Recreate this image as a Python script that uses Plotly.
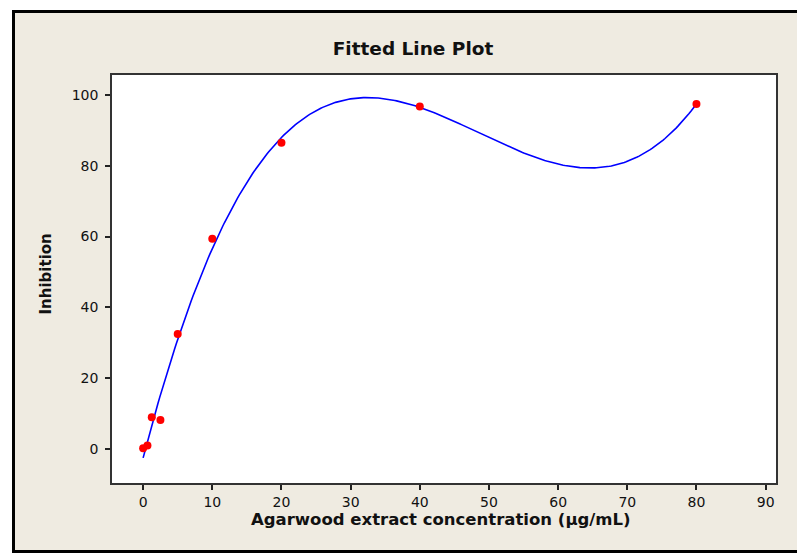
import numpy as np
import plotly.graph_objects as go

# Data
concentration = [0, 0.625, 1.25, 2.5, 5, 10, 20, 40, 80]
inhibition = [0.2, 1.0, 9.0, 8.2, 32.5, 59.4, 86.5, 96.7, 97.4]
x_ticks = [0, 10, 20, 30, 40, 50, 60, 70, 80, 90]
y_ticks = [0, 20, 40, 60, 80, 100]

# Cubic fitted line (Minitab "Fitted Line Plot")
coef = np.polyfit(concentration, inhibition, 3)
xf = np.linspace(min(concentration), max(concentration), 300)
yf = np.polyval(coef, xf)

BG = "#EFEBE1"
FONT = "DejaVu Sans"

fig = go.Figure()
fig.add_trace(go.Scatter(x=xf, y=yf, mode="lines",
                         line=dict(color="#0000FF", width=1.6),
                         hoverinfo="skip", showlegend=False))
fig.add_trace(go.Scatter(x=concentration, y=inhibition, mode="markers",
                         marker=dict(color="#FF0000", size=8),
                         showlegend=False))

OFF = 8  # page body margin
W, H = 805 - OFF, 556 - OFF
L, R, T, B = 104, 29, 67, 73
pw, ph = W - L - R, H - T - B


def px(xp):
    """page x pixel -> paper x"""
    return (xp - OFF - L) / pw


def py(yp):
    """page y pixel -> paper y"""
    return (H - B - (yp - OFF)) / ph


shapes = [
    dict(type="rect", xref="paper", yref="paper", x0=px(0), x1=px(12), y0=py(600), y1=py(0),
         fillcolor="white", line=dict(width=0), layer="above"),
    dict(type="rect", xref="paper", yref="paper", x0=px(0), x1=px(820), y0=py(10), y1=py(0),
         fillcolor="white", line=dict(width=0), layer="above"),
    dict(type="rect", xref="paper", yref="paper", x0=px(0), x1=px(820), y0=py(600), y1=py(553),
         fillcolor="white", line=dict(width=0), layer="above"),
    dict(type="rect", xref="paper", yref="paper", x0=px(13.5), x1=px(830), y0=py(551.5), y1=py(11.5),
         fillcolor="rgba(0,0,0,0)", line=dict(color="black", width=3), layer="above"),
]

annotations = [
    dict(text="<b>Agarwood extract concentration (µg/mL)</b>", xref="paper", yref="paper",
         x=px(441), y=py(520), xanchor="center", yanchor="middle", showarrow=False,
         font=dict(size=16.5, family=FONT, color="#111111")),
    dict(text="<b>Inhibition</b>", xref="paper", yref="paper", textangle=-90,
         x=px(45), y=py(274.5), xanchor="center", yanchor="middle", showarrow=False,
         font=dict(size=15, family=FONT, color="#111111")),
]

fig.update_layout(
    width=W, height=H,
    margin=dict(l=L, r=R, t=T, b=B),
    paper_bgcolor=BG, plot_bgcolor="white",
    font=dict(family=FONT, color="#111111", size=14),
    title=dict(text="<b>Fitted Line Plot</b>", x=(413 - OFF) / W, xanchor="center",
               y=1 - (48.5 - OFF) / H, yanchor="middle", font=dict(size=18.5, family=FONT)),
    shapes=shapes,
    annotations=annotations,
)
fig.update_xaxes(
    range=[-4.5, 91.5], tickvals=x_ticks, ticks="outside", ticklen=5, tickwidth=1.5,
    tickcolor="#222222", showline=True, linecolor="#333333", linewidth=1.5, mirror=True,
    showgrid=False, zeroline=False, tickfont=dict(size=14),
)
fig.update_yaxes(
    range=[-9.6, 105.6], tickvals=y_ticks, ticks="outside", ticklen=5, tickwidth=1.5,
    tickcolor="#222222", showline=True, linecolor="#333333", linewidth=1.5, mirror=True,
    showgrid=False, zeroline=False, tickfont=dict(size=14), ticklabelstandoff=4,
)

fig.write_html("out.html")
